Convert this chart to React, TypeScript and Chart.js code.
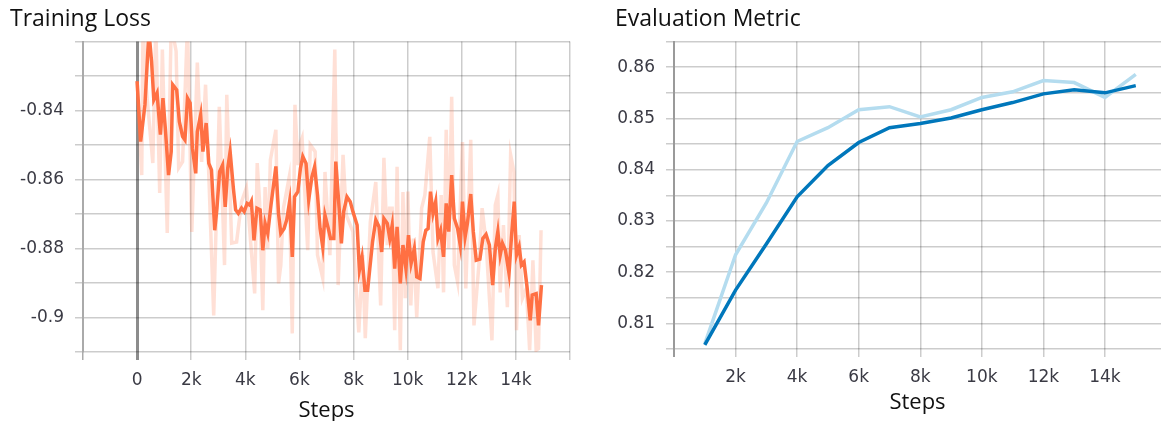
import React, { useEffect, useRef } from "react";
import { Chart, registerables } from "chart.js";

Chart.register(...registerables);

// ---------- Training Loss data ----------
const smoothSteps = [0,130,290,436,534,617,737,860,955,1042,1162,1260,1318,1463,1561,1681,1768,1862,1960,2044,2167,2225,2349,2432,2552,2650,2748,2868,2951,3049,3158,3256,3350,3438,3557,3641,3739,3859,3957,4066,4164,4222,4320,4429,4548,4646,4730,4828,4948,5129,5227,5311,5434,5528,5637,5735,5819,5942,6037,6124,6244,6342,6461,6560,6668,6763,6861,6944,7068,7151,7271,7343,7467,7550,7634,7757,7877,7975,8131,8215,8313,8422,8520,8600,8701,8821,8941,9039,9122,9246,9340,9427,9521,9609,9728,9826,9935,10030,10128,10247,10335,10454,10574,10672,10756,10843,10937,11035,11119,11217,11326,11424,11518,11627,11725,11845,11943,12026,12124,12208,12331,12426,12534,12669,12778,12897,13021,13141,13239,13333,13420,13504,13613,13747,13841,13939,14023,14121,14204,14302,14411,14531,14603,14749,14836,14945];
const smoothLoss = [-0.8315,-0.849,-0.8383,-0.817,-0.8257,-0.8369,-0.8349,-0.847,-0.8364,-0.8451,-0.8587,-0.8519,-0.8325,-0.834,-0.8432,-0.8475,-0.8485,-0.8364,-0.8378,-0.8509,-0.8582,-0.8461,-0.8412,-0.8519,-0.8436,-0.8553,-0.8572,-0.8747,-0.8683,-0.8577,-0.8558,-0.8679,-0.8567,-0.8519,-0.8625,-0.8688,-0.8698,-0.8683,-0.8693,-0.8669,-0.8674,-0.8664,-0.8776,-0.8683,-0.8688,-0.8805,-0.8727,-0.8756,-0.8674,-0.8562,-0.8698,-0.8756,-0.8742,-0.8717,-0.8664,-0.8824,-0.865,-0.8635,-0.8567,-0.8533,-0.8553,-0.8659,-0.8592,-0.8563,-0.8645,-0.8742,-0.8795,-0.8703,-0.8742,-0.8771,-0.8771,-0.8548,-0.8683,-0.8785,-0.8693,-0.865,-0.8664,-0.8693,-0.8732,-0.8863,-0.8824,-0.8921,-0.8921,-0.8858,-0.8781,-0.8717,-0.8737,-0.881,-0.8713,-0.8727,-0.8771,-0.8732,-0.8858,-0.8737,-0.8901,-0.879,-0.8858,-0.8761,-0.8843,-0.88,-0.8882,-0.8887,-0.8781,-0.8747,-0.8742,-0.8635,-0.8698,-0.8664,-0.8771,-0.8747,-0.8824,-0.8669,-0.8751,-0.8587,-0.8713,-0.8742,-0.879,-0.8664,-0.8766,-0.8727,-0.8642,-0.8751,-0.8834,-0.8831,-0.8771,-0.8759,-0.879,-0.8906,-0.88,-0.8751,-0.8819,-0.8785,-0.8805,-0.8872,-0.8761,-0.8664,-0.8819,-0.8795,-0.8848,-0.8839,-0.8911,-0.9008,-0.8935,-0.8931,-0.9023,-0.8906];

const rawSteps = [0,171,218,327,581,690,835,933,1114,1260,1441,1536,1681,1862,2022,2225,2385,2530,2650,2831,3038,3231,3314,3496,3677,3859,4040,4345,4439,4526,4646,4730,4828,4926,5129,5227,5311,5409,5616,5735,5834,5942,6015,6098,6305,6400,6581,6668,6861,6944,7126,7307,7430,7612,7732,7975,8193,8338,8433,8620,8821,9002,9122,9246,9329,9427,9521,9609,9728,9826,9909,10007,10116,10211,10335,10516,10636,10817,10937,11119,11240,11326,11424,11518,11627,11725,11845,12026,12149,12331,12451,12632,12752,12897,13115,13239,13333,13420,13540,13685,13805,13928,14023,14121,14241,14386,14509,14629,14749,14836,14930];
const rawLoss = [-0.8315,-0.8587,-0.815,-0.8325,-0.8552,-0.815,-0.8639,-0.8223,-0.8755,-0.815,-0.8228,-0.8566,-0.8548,-0.815,-0.8752,-0.8261,-0.8549,-0.8325,-0.8587,-0.8994,-0.8389,-0.8848,-0.8354,-0.8784,-0.8781,-0.8665,-0.8624,-0.893,-0.8552,-0.8664,-0.8979,-0.8622,-0.88,-0.8543,-0.8456,-0.8901,-0.8848,-0.8683,-0.8595,-0.9046,-0.8383,-0.8558,-0.8499,-0.848,-0.8805,-0.8499,-0.8519,-0.8819,-0.8886,-0.8578,-0.8819,-0.8223,-0.8906,-0.8528,-0.8703,-0.8751,-0.9043,-0.8819,-0.906,-0.8722,-0.8607,-0.8965,-0.8537,-0.879,-0.8683,-0.8683,-0.9037,-0.8563,-0.9095,-0.8636,-0.8944,-0.8635,-0.8965,-0.8771,-0.8999,-0.8683,-0.8645,-0.8476,-0.881,-0.8915,-0.8645,-0.8927,-0.8456,-0.88,-0.836,-0.8848,-0.8897,-0.8491,-0.8916,-0.8485,-0.9023,-0.8848,-0.8683,-0.8781,-0.9066,-0.8674,-0.8645,-0.8927,-0.8732,-0.897,-0.8528,-0.8578,-0.9037,-0.8761,-0.8944,-0.8916,-0.9095,-0.8834,-0.9095,-0.909,-0.8747];

const lossXTicks = [-2000,0,2000,4000,6000,8000,10000,12000,14000,16000];
const lossXLabels = ["","0","2k","4k","6k","8k","10k","12k","14k",""];
const lossYTicks = [-0.91,-0.9,-0.89,-0.88,-0.87,-0.86,-0.85,-0.84,-0.83,-0.82];
const lossYLabels = ["","-0.9","","-0.88","","-0.86","","-0.84","",""];

// ---------- Evaluation Metric data ----------
const evalSteps = [1000,2000,3000,4000,5000,6000,7000,8000,9000,10000,11000,12000,13000,14000,15000];
const evalSmooth = [0.8058,0.8165,0.8255,0.8347,0.8408,0.8453,0.8482,0.849,0.8501,0.8517,0.8531,0.8548,0.8556,0.855,0.8564];
const evalRaw = [0.806,0.8234,0.8335,0.8455,0.8482,0.8517,0.8523,0.8503,0.8517,0.8541,0.8552,0.8574,0.857,0.8541,0.8586];

const evalXTicks = [0,2000,4000,6000,8000,10000,12000,14000];
const evalXLabels = ["","2k","4k","6k","8k","10k","12k","14k"];
const evalYTicks = [0.805,0.81,0.815,0.82,0.825,0.83,0.835,0.84,0.845,0.85,0.855,0.86,0.865];
const evalYLabels = ["","0.81","","0.82","","0.83","","0.84","","0.85","","0.86",""];

const TICK_FONT = { family: "'DejaVu Sans', sans-serif", size: 17 };
const TITLE_FONT = { family: "'Open Sans', sans-serif", size: 23, weight: "normal" as const };
const AXIS_TITLE_FONT = { family: "'Open Sans', sans-serif", size: 22, lineHeight: 1 };
const TICK_COLOR = "#3a3a44";
const GRID = "rgba(0,0,0,0.2)";

function pts(xs: number[], ys: number[]) {
  return xs.map((x, i) => ({ x, y: ys[i] }));
}

function setTicks(values: number[]) {
  return (scale: any) => {
    scale.ticks = values.map((v) => ({ value: v }));
  };
}

export default function App() {
  const lossRef = useRef<HTMLCanvasElement>(null);
  const evalRef = useRef<HTMLCanvasElement>(null);

  useEffect(() => {
    const lossChart = new Chart(lossRef.current!, {
      type: "line",
      data: {
        datasets: [
          {
            data: pts(smoothSteps, smoothLoss),
            borderColor: "#ff7043",
            borderWidth: 3.5,
            pointRadius: 0,
            tension: 0,
            clip: 0 as any,
          },
          {
            data: pts(rawSteps, rawLoss),
            borderColor: "rgba(255,112,67,0.22)",
            borderWidth: 3.5,
            pointRadius: 0,
            tension: 0,
            clip: 0 as any,
          },
        ],
      },
      options: {
        animation: false,
        responsive: false,
        layout: { padding: { left: 0, right: 2, top: 0, bottom: 0 } },
        plugins: {
          legend: { display: false },
          tooltip: { enabled: false },
          title: {
            display: true,
            text: "Training Loss",
            align: "start",
            color: "#111",
            font: TITLE_FONT,
            padding: { top: 6, bottom: 8 },
          },
        },
        scales: {
          x: {
            type: "linear",
            min: -2000,
            max: 16000,
            afterBuildTicks: setTicks(lossXTicks),
            afterFit: (s: any) => { s.height = 69; },
            ticks: {
              autoSkip: false,
              maxRotation: 0,
              padding: 10,
              color: TICK_COLOR,
              font: TICK_FONT,
              callback: (_v: any, i: number) => lossXLabels[i],
            },
            grid: {
              color: (c: any) => (c.tick && c.tick.value === 0 ? "#8c8c8c" : c.tick && c.tick.value === -2000 ? "#aaaaaa" : GRID),
              lineWidth: (c: any) => (c.tick && c.tick.value === 0 ? 3 : 1.5),
              tickLength: 8,
            },
            border: { display: false },
            title: {
              display: true,
              text: "Steps",
              color: "#111",
              font: AXIS_TITLE_FONT,
              padding: { top: 0, bottom: -1 },
            },
          },
          y: {
            type: "linear",
            min: -0.91,
            max: -0.82,
            afterBuildTicks: setTicks(lossYTicks),
            afterFit: (s: any) => { s.width = 73; },
            ticks: {
              autoSkip: false,
              padding: 11,
              color: TICK_COLOR,
              font: TICK_FONT,
              callback: (_v: any, i: number) => lossYLabels[i],
            },
            grid: { color: GRID, lineWidth: 1.5, tickLength: 8 },
            border: { display: true, color: "#aaaaaa", width: 2 },
          },
        },
      },
    });

    const evalChart = new Chart(evalRef.current!, {
      type: "line",
      data: {
        datasets: [
          {
            data: pts(evalSteps, evalSmooth),
            borderColor: "#0077bb",
            borderWidth: 3.5,
            pointRadius: 0,
            tension: 0,
          },
          {
            data: pts(evalSteps, evalRaw),
            borderColor: "#b4dcef",
            borderWidth: 3.5,
            pointRadius: 0,
            tension: 0,
          },
        ],
      },
      options: {
        animation: false,
        responsive: false,
        layout: { padding: { left: 0, right: 0, top: 0, bottom: 0 } },
        plugins: {
          legend: { display: false },
          tooltip: { enabled: false },
          title: {
            display: true,
            text: "Evaluation Metric",
            align: "start",
            color: "#111",
            font: TITLE_FONT,
            padding: { top: 6, bottom: 8 },
          },
        },
        scales: {
          x: {
            type: "linear",
            min: 0,
            max: 15820,
            afterBuildTicks: setTicks(evalXTicks),
            afterFit: (s: any) => { s.height = 66; },
            ticks: {
              autoSkip: false,
              maxRotation: 0,
              padding: 10,
              color: TICK_COLOR,
              font: TICK_FONT,
              callback: (_v: any, i: number) => evalXLabels[i],
            },
            grid: {
              color: (c: any) => (c.tick && c.tick.value === 0 ? "#9a9a9a" : GRID),
              lineWidth: (c: any) => (c.tick && c.tick.value === 0 ? 2 : 1.5),
              tickLength: 8,
            },
            border: { display: false },
            title: {
              display: true,
              text: "Steps",
              color: "#111",
              font: AXIS_TITLE_FONT,
              padding: { top: 0, bottom: 1 },
            },
          },
          y: {
            type: "linear",
            min: 0.805,
            max: 0.865,
            afterBuildTicks: setTicks(evalYTicks),
            afterFit: (s: any) => { s.width = 59; },
            ticks: {
              autoSkip: false,
              padding: 11,
              color: TICK_COLOR,
              font: TICK_FONT,
              callback: (_v: any, i: number) => evalYLabels[i],
            },
            grid: { color: GRID, lineWidth: 1.5, tickLength: 8 },
            border: { display: true, color: "#9a9a9a", width: 2 },
          },
        },
      },
    });

    return () => {
      lossChart.destroy();
      evalChart.destroy();
    };
  }, []);

  return (
    <div style={{ position: "fixed", left: 0, top: 0, width: 1161, height: 421, background: "#fff" }}>
      <canvas ref={lossRef} width={570} height={421} style={{ position: "absolute", left: 10, top: 0 }} />
      <canvas ref={evalRef} width={546} height={415} style={{ position: "absolute", left: 615, top: 0 }} />
    </div>
  );
}
